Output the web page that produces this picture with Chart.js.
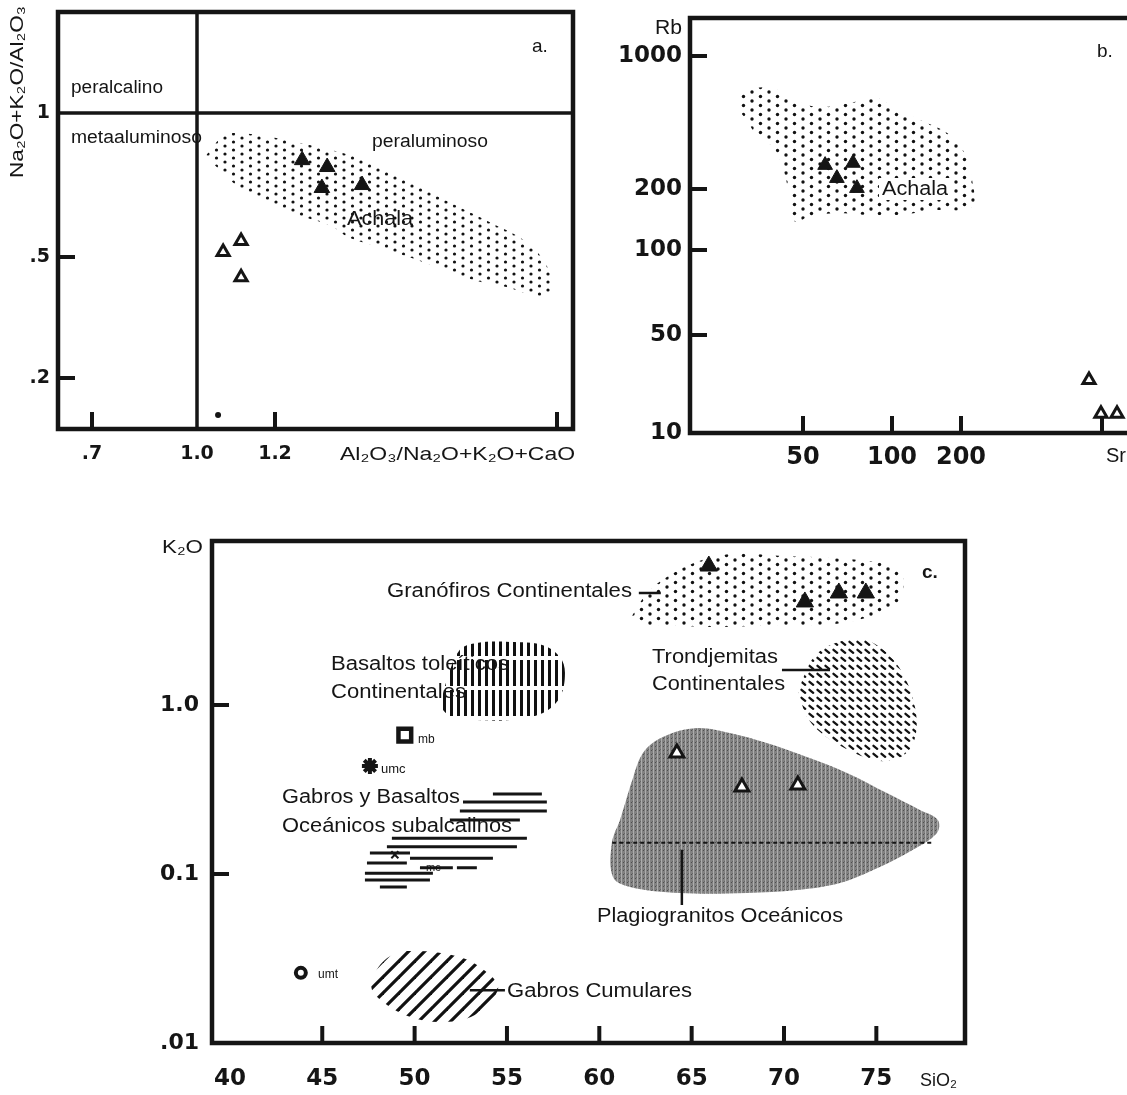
<!DOCTYPE html>
<html>
<head>
<meta charset="utf-8">
<script src="https://cdn.jsdelivr.net/npm/chart.js@4.4.0/dist/chart.umd.min.js"></script>
<style>
html, body { margin: 0; padding: 0; background: #fff; overflow: hidden; width: 1127px; height: 1095px; }
canvas { position: absolute; left: 0; top: 0; }
</style>
</head>
<body>
<canvas id="chartA" width="1160" height="1095"></canvas>
<canvas id="chartB" width="1160" height="1095"></canvas>
<canvas id="chartC" width="1160" height="1095"></canvas>
<script>
// ---- panel a: Al2O3/(Na2O+K2O+CaO) vs (Na2O+K2O)/Al2O3 ----
const aTicksX = [0.7, 1.0, 1.2, 2.0];
const aTickLabelsX = ['.7', '1.0', '1.2', ''];
const aTicksY = [0.2, 0.5, 1];
const aTickLabelsY = ['.2', '.5', '1'];
const aAchalaX = [1.023, 1.070, 1.114, 1.211, 1.304, 1.425, 1.530, 1.623, 1.718, 1.811, 1.904, 1.961, 1.986, 1.961, 1.859, 1.763, 1.623, 1.493, 1.408, 1.361, 1.276, 1.200, 1.114, 1.055];
const aAchalaY = [0.815, 0.898, 0.907, 0.885, 0.855, 0.811, 0.754, 0.693, 0.638, 0.590, 0.543, 0.489, 0.410, 0.368, 0.398, 0.420, 0.480, 0.525, 0.550, 0.580, 0.608, 0.638, 0.693, 0.765];
const aFilledX = [1.277, 1.348, 1.333, 1.447];
const aFilledY = [0.797, 0.771, 0.697, 0.707];
const aOpenX = [1.067, 1.113, 1.113];
const aOpenY = [0.512, 0.540, 0.429];
const aDotX = [1.054];
const aDotY = [0.151];

// ---- panel b: Sr vs Rb ----
const bTicksX = [50, 100, 200, 1000];
const bTickLabelsX = ['50', '100', '200', ''];
const bTicksY = [10, 50, 100, 200, 1000];
const bTickLabelsY = ['10', '50', '100', '200', '1000'];
const bAchalaX = [30.2, 30.2, 32.3, 39.6, 45.2, 55.8, 72.1, 89, 101, 132.5, 174, 204.6, 227, 227, 151, 108.4, 82.3, 63.2, 51.6, 48.1, 45.2, 44.4, 41.8, 39.6, 34.4, 32.3];
const bAchalaY = [521, 586, 662, 678, 602, 540, 566, 602, 540, 461, 394, 320, 223, 163, 157, 149, 149, 152, 145, 137.5, 145, 204, 284, 332, 394, 461];
const bFilledX = [59.4, 73.8, 65.1, 76.1];
const bFilledY = [267, 274, 228, 202];
const bOpenX = [862, 988, 1187];
const bOpenY = [23.9, 13.7, 13.7];

// ---- panel c: SiO2 vs K2O ----
const cTicksX = [40, 45, 50, 55, 60, 65, 70, 75];
const cTicksY = [0.01, 0.1, 1.0];
const cTickLabelsY = ['.01', '0.1', '1.0'];
const cGranX = [61.77, 62.58, 63.66, 65.12, 67.13, 69.89, 72.59, 75.30, 76.17, 76.49, 76.06, 74.76, 72.76, 69.89, 66.20, 63.50, 62.20];
const cGranY = [3.36, 4.60, 5.72, 6.92, 7.82, 7.62, 7.41, 6.92, 6.29, 5.27, 3.85, 3.36, 3.01, 2.97, 2.89, 2.97, 3.01];
const cTrondX = [70.75, 71.67, 73.13, 74.60, 76.06, 76.98, 77.14, 76.44, 74.98, 72.76, 71.35];
const cTrondY = [1.21, 1.95, 2.39, 2.39, 1.77, 1.09, 0.673, 0.50, 0.47, 0.60, 0.815];
const cPlagX = [61.66, 62.36, 63.44, 65.28, 67.07, 69.07, 71.24, 73.41, 75.57, 77.36, 78.33, 78.28, 76.98, 75.19, 73.03, 70.70, 67.99, 64.36, 61.66, 60.74, 60.68, 61.12];
const cPlagY = [0.327, 0.520, 0.647, 0.731, 0.683, 0.596, 0.492, 0.396, 0.301, 0.239, 0.209, 0.175, 0.139, 0.110, 0.0885, 0.0804, 0.0772, 0.0772, 0.0838, 0.096, 0.153, 0.209];
const cBasX = [51.37, 51.75, 52.45, 53.37, 55.16, 56.95, 57.87, 58.14, 57.87, 56.95, 55.16, 53.37, 52.07];
const cBasY = [0.973, 1.41, 2.12, 2.33, 2.36, 2.26, 1.92, 1.55, 1.11, 0.897, 0.815, 0.815, 0.838];
const cCumX = [47.58, 48.39, 49.58, 52.45, 54.08, 54.51, 53.26, 51.37, 49.47, 47.85];
const cCumY = [0.0233, 0.0310, 0.035, 0.0323, 0.0253, 0.0206, 0.01466, 0.0133, 0.01466, 0.0192];
// horizontal strokes of "Gabros y Basaltos Oceanicos subalcalinos"
const cSegX1 = [54.24, 52.62, 52.45, 51.91, 48.77, 48.50, 47.58, 49.75, 47.42, 50.29, 52.29, 47.31, 47.31, 48.12];
const cSegX2 = [56.89, 57.16, 57.16, 55.70, 56.08, 55.54, 49.75, 54.24, 49.58, 52.07, 53.37, 50.99, 50.83, 49.58];
const cSegY = [0.297, 0.267, 0.236, 0.209, 0.163, 0.145, 0.133, 0.124, 0.116, 0.109, 0.109, 0.101, 0.092, 0.0838];
// leader lines [x1, x2, y1, y2]
const cLeaderX1 = [62.14, 69.89, 64.47, 52.99];
const cLeaderX2 = [63.33, 72.49, 64.47, 54.89];
const cLeaderY1 = [4.60, 1.61, 0.139, 0.0205];
const cLeaderY2 = [4.60, 1.61, 0.0656, 0.0205];
const cPlagDashX = [60.7, 78.0];
const cPlagDashY = [0.153, 0.153];
const cFilledX = [65.93, 71.13, 72.97, 74.43];
const cFilledY = [6.64, 4.07, 4.60, 4.60];
const cOpenX = [64.20, 67.72, 70.75];
const cOpenY = [0.520, 0.327, 0.336];
const cMbX = [49.47], cMbY = [0.664];
const cUmcX = [47.58], cUmcY = [0.436];
const cUmtX = [43.84], cUmtY = [0.026];
const cMcX = [48.93], cMcY = [0.130];

// ---- layout ----
const W = 1160, H = 1095;
const INK = '#151515';
const FONT = '"Liberation Sans", Arial, "DejaVu Sans", sans-serif';
const TICKFONT = '"DejaVu Sans", sans-serif';

// the hand-drawn axes of a and b are not evenly spaced: axis units between the tick marks
const aUnitsX = [0, 105, 183, 465];
const aUnitsY = [0, 121, 265];
const bUnitsX = [0, 89, 158, 299];
const bUnitsY = [0, 98, 183, 244, 377];

function warp(v, vals, units, log) {
    const f = log ? Math.log : (t) => t;
    const t = f(v);
    let i = 0;
    while (i < vals.length - 2 && t > f(vals[i + 1])) i++;
    const a = f(vals[i]), b = f(vals[i + 1]);
    return units[i] + (t - a) / (b - a) * (units[i + 1] - units[i]);
}
const wAX = v => warp(v, aTicksX, aUnitsX, false);
const wAY = v => warp(v, aTicksY, aUnitsY, true);
const wBX = v => warp(v, bTicksX, bUnitsX, true);
const wBY = v => warp(v, bTicksY, bUnitsY, true);
const same = v => v;

// patterns
function makePattern(w, h, draw) {
    const c = document.createElement('canvas');
    c.width = w; c.height = h;
    const g = c.getContext('2d');
    draw(g);
    return g.createPattern(c, 'repeat');
}
function dots(g, pts, r, col) {
    g.fillStyle = col;
    pts.forEach(p => { g.beginPath(); g.arc(p[0], p[1], r, 0, Math.PI * 2); g.fill(); });
}
const dotPattern = makePattern(17, 8, g => dots(g, [[4, 2], [12.5, 6]], 1.6, '#111'));
const dotPatternB = makePattern(17, 9, g => dots(g, [[4, 2], [12.5, 6.5]], 1.7, '#111'));
const dashPattern = makePattern(8, 8, g => {
    g.strokeStyle = '#111'; g.lineWidth = 2.3; g.lineCap = 'round';
    g.beginPath(); g.moveTo(1.5, 1.8); g.lineTo(5.2, 4.8); g.stroke();
});
const vertPattern = makePattern(7, 30, g => { g.fillStyle = '#111'; g.fillRect(2, 0, 3, 26); });
const diagPattern = makePattern(16, 16, g => {
    g.strokeStyle = '#111'; g.lineWidth = 3.2;
    [[-8, 8, 8, -8], [0, 16, 16, 0], [8, 24, 24, 8]].forEach(s => {
        g.beginPath(); g.moveTo(s[0], s[1]); g.lineTo(s[2], s[3]); g.stroke();
    });
});
const grayPattern = makePattern(4, 4, g => {
    g.fillStyle = '#828282'; g.fillRect(0, 0, 4, 4);
    g.fillStyle = '#adadad'; g.fillRect(1, 0, 1, 4);
    g.fillStyle = '#4e4e4e'; g.fillRect(3, 2, 1, 1);
    g.fillStyle = '#666'; g.fillRect(0, 1, 1, 1);
});

function pts(xs, ys, fx, fy) {
    return xs.map((x, i) => ({ x: fx(x), y: fy(ys[i]) }));
}
function field(xs, ys, pattern, fx, fy) {
    const d = pts(xs, ys, fx, fy);
    d.push(d[0]);
    return { data: d, showLine: true, fill: 'shape', backgroundColor: pattern, borderColor: 'rgba(0,0,0,0)',
        borderWidth: 0, pointRadius: 0, tension: 0.35, order: 10 };
}
function markers(xs, ys, fx, fy, style, r, fillCol, bw) {
    return { data: pts(xs, ys, fx, fy), pointStyle: style, pointRadius: r, backgroundColor: fillCol,
        borderColor: INK, borderWidth: bw, order: 0 };
}
function lineSet(data, bw, dash) {
    return { data: data, showLine: true, borderColor: INK, borderWidth: bw, borderDash: dash || [],
        pointRadius: 0, fill: false, spanGaps: false, order: 5 };
}

// frame, inward tick marks and annotations
const framePlugin = {
    id: 'frame',
    afterDraw(chart, args, o) {
        const { ctx, chartArea: a, scales } = chart;
        ctx.save();
        ctx.strokeStyle = INK;
        ctx.lineWidth = 4;
        ctx.lineCap = 'butt';
        (o.xMarks || []).forEach(v => {
            const x = scales.x.getPixelForValue(v);
            ctx.beginPath(); ctx.moveTo(x, a.bottom); ctx.lineTo(x, a.bottom - o.len); ctx.stroke();
        });
        (o.yMarks || []).forEach(v => {
            const y = scales.y.getPixelForValue(v);
            ctx.beginPath(); ctx.moveTo(a.left, y); ctx.lineTo(a.left + o.len, y); ctx.stroke();
        });
        ctx.lineWidth = 4.5;
        ctx.strokeRect(a.left, a.top, a.right - a.left, a.bottom - a.top);
        (o.texts || []).forEach(t => {
            ctx.save();
            ctx.font = (t.bold ? 'bold ' : '') + t.size + 'px ' + FONT;
            ctx.textBaseline = 'middle';
            ctx.textAlign = 'left';
            const m = ctx.measureText(t.text).width;
            const w = t.w || m;
            ctx.translate(t.x, t.y);
            if (t.rot) ctx.rotate(t.rot * Math.PI / 180);
            const x0 = t.align === 'right' ? -w : t.align === 'center' ? -w / 2 : 0;
            if (t.bg) {
                ctx.fillStyle = '#fff';
                ctx.fillRect(x0 - 3, -t.size * 0.55, w + 6, t.size * 1.1);
            }
            ctx.fillStyle = INK;
            ctx.translate(x0, 0);
            ctx.scale(w / m, 1);
            ctx.fillText(t.text, 0, 0);
            ctx.restore();
        });
        ctx.restore();
    }
};

function axis(opts) {
    return {
        type: opts.type || 'linear', min: opts.min, max: opts.max,
        grid: { display: false }, border: { display: false },
        afterBuildTicks: s => { s.ticks = opts.ticks.map(v => ({ value: v })); },
        afterFit: s => { if (opts.size.w) s.width = opts.size.w; else s.height = opts.size.h; },
        ticks: {
            autoSkip: false, maxRotation: 0, color: INK, padding: opts.pad,
            font: { family: TICKFONT, weight: 'bold', size: opts.font },
            callback: (v, i) => opts.labels[i]
        }
    };
}

function makeChart(id, frame, yW, xH, datasets, scales, plug) {
    return new Chart(document.getElementById(id), {
        type: 'scatter',
        data: { datasets: datasets },
        options: {
            responsive: false, animation: false, events: [],
            layout: { padding: { left: frame.left - yW, top: frame.top, right: W - frame.right, bottom: H - frame.bottom - xH } },
            plugins: { legend: { display: false }, tooltip: { enabled: false }, frame: plug },
            scales: scales
        },
        plugins: [framePlugin]
    });
}

// ---- chart a ----
const frameA = { left: 58, top: 12, right: 573, bottom: 429 };
makeChart('chartA', frameA, 56, 40, [
    markers(aFilledX, aFilledY, wAX, wAY, 'triangle', 9, INK, 1),
    markers(aOpenX, aOpenY, wAX, wAY, 'triangle', 7, '#fff', 3),
    markers(aDotX, aDotY, wAX, wAY, 'circle', 3, INK, 0),
    lineSet(pts([1.0, 1.0], [0.05, 3], wAX, wAY), 3.5),
    lineSet(pts([0.5, 3], [1, 1], wAX, wAY), 3.5),
    field(aAchalaX, aAchalaY, dotPattern, wAX, wAY)
], {
    x: axis({ min: 58 - 92, max: 573 - 92, ticks: aUnitsX, labels: aTickLabelsX, font: 19, pad: 6, size: { h: 40 } }),
    y: axis({ min: 378 - 429, max: 378 - 12, ticks: aUnitsY, labels: aTickLabelsY, font: 19, pad: 0, size: { w: 56 } })
}, {
    len: 17,
    xMarks: [aUnitsX[0], aUnitsX[2], aUnitsX[3]],
    yMarks: [aUnitsY[0], aUnitsY[1]],
    texts: [
        { text: 'peralcalino', x: 71, y: 88, size: 18, w: 92 },
        { text: 'metaaluminoso', x: 71, y: 138, size: 18, w: 131 },
        { text: 'peraluminoso', x: 372, y: 142, size: 18, w: 116 },
        { text: 'Achala', x: 347, y: 219, size: 21, w: 66 },
        { text: 'a.', x: 532, y: 47, size: 19 },
        { text: 'Na₂O+K₂O/Al₂O₃', x: 18, y: 92, size: 19, rot: -90, align: 'center', w: 172 },
        { text: 'Al₂O₃/Na₂O+K₂O+CaO', x: 340, y: 455, size: 19, w: 235 }
    ]
});

// ---- chart b ----
const frameB = { left: 690, top: 18, right: 1145, bottom: 433 };
makeChart('chartB', frameB, 90, 45, [
    markers(bFilledX, bFilledY, wBX, wBY, 'triangle', 8.5, INK, 1),
    markers(bOpenX, bOpenY, wBX, wBY, 'triangle', 7, '#fff', 3),
    field(bAchalaX, bAchalaY, dotPatternB, wBX, wBY)
], {
    x: axis({ min: 690 - 803, max: 1145 - 803, ticks: bUnitsX, labels: bTickLabelsX, font: 24, pad: 2, size: { h: 45 } }),
    y: axis({ min: 0, max: 415, ticks: bUnitsY, labels: bTickLabelsY, font: 23, pad: 0, size: { w: 90 } })
}, {
    len: 17,
    xMarks: bUnitsX,
    yMarks: bUnitsY.slice(1),
    texts: [
        { text: 'Rb', x: 682, y: 28, size: 20, align: 'right', w: 27 },
        { text: 'b.', x: 1097, y: 52, size: 19 },
        { text: 'Achala', x: 882, y: 189, size: 20, w: 66, bg: true },
        { text: 'Sr', x: 1106, y: 456, size: 20 }
    ]
});

// ---- chart c ----
const frameC = { left: 212, top: 541, right: 965, bottom: 1043 };
const segData = [];
cSegY.forEach((y, i) => {
    segData.push({ x: cSegX1[i], y: y }, { x: cSegX2[i], y: y }, { x: cSegX2[i], y: null });
});
const leadData = [];
cLeaderX1.forEach((x, i) => {
    leadData.push({ x: x, y: cLeaderY1[i] }, { x: cLeaderX2[i], y: cLeaderY2[i] }, { x: cLeaderX2[i], y: null });
});
makeChart('chartC', frameC, 70, 50, [
    markers(cFilledX, cFilledY, same, same, 'triangle', 10, INK, 1),
    markers(cOpenX, cOpenY, same, same, 'triangle', 8, '#fff', 3),
    markers(cMbX, cMbY, same, same, 'rect', 9, '#fff', 4.5),
    markers(cUmcX, cUmcY, same, same, 'star', 8, INK, 4),
    markers(cUmtX, cUmtY, same, same, 'circle', 5, '#fff', 4),
    markers(cMcX, cMcY, same, same, 'crossRot', 5, INK, 2),
    lineSet(segData, 3),
    lineSet(leadData, 2.5),
    lineSet(pts(cPlagDashX, cPlagDashY, same, same), 2, [4, 3]),
    field(cGranX, cGranY, dotPatternB, same, same),
    field(cTrondX, cTrondY, dashPattern, same, same),
    field(cPlagX, cPlagY, grayPattern, same, same),
    field(cBasX, cBasY, vertPattern, same, same),
    field(cCumX, cCumY, diagPattern, same, same)
], {
    x: axis({ min: 39.03, max: 79.8, ticks: cTicksX, labels: cTicksX.map(String), font: 23, pad: 14, size: { h: 50 } }),
    y: axis({ type: 'logarithmic', min: 0.01, max: 9.34, ticks: cTicksY, labels: cTickLabelsY, font: 22, pad: 5, size: { w: 70 } })
}, {
    len: 17,
    xMarks: cTicksX.slice(1),
    yMarks: cTicksY.slice(1),
    texts: [
        { text: 'K₂O', x: 203, y: 548, size: 19, align: 'right', w: 41 },
        { text: 'Granófiros Continentales', x: 387, y: 591, size: 20, w: 245 },
        { text: 'Basaltos toleíticos', x: 331, y: 664, size: 20, w: 178 },
        { text: 'Continentales', x: 331, y: 692, size: 20, w: 135 },
        { text: 'Gabros y Basaltos', x: 282, y: 797, size: 20, w: 178 },
        { text: 'Oceánicos subalcalinos', x: 282, y: 826, size: 20, w: 230 },
        { text: 'Trondjemitas', x: 652, y: 657, size: 20, w: 126 },
        { text: 'Continentales', x: 652, y: 684, size: 20, w: 133 },
        { text: 'Plagiogranitos Oceánicos', x: 597, y: 916, size: 20, w: 246 },
        { text: 'Gabros Cumulares', x: 507, y: 991, size: 20, w: 185 },
        { text: 'c.', x: 922, y: 573, size: 19, bold: true },
        { text: 'mb', x: 418, y: 740, size: 12 },
        { text: 'umc', x: 381, y: 769, size: 13 },
        { text: 'umt', x: 318, y: 975, size: 12 },
        { text: 'mc', x: 426, y: 868, size: 11 },
        { text: 'SiO₂', x: 920, y: 1081, size: 18 }
    ]
});
</script>
</body>
</html>
